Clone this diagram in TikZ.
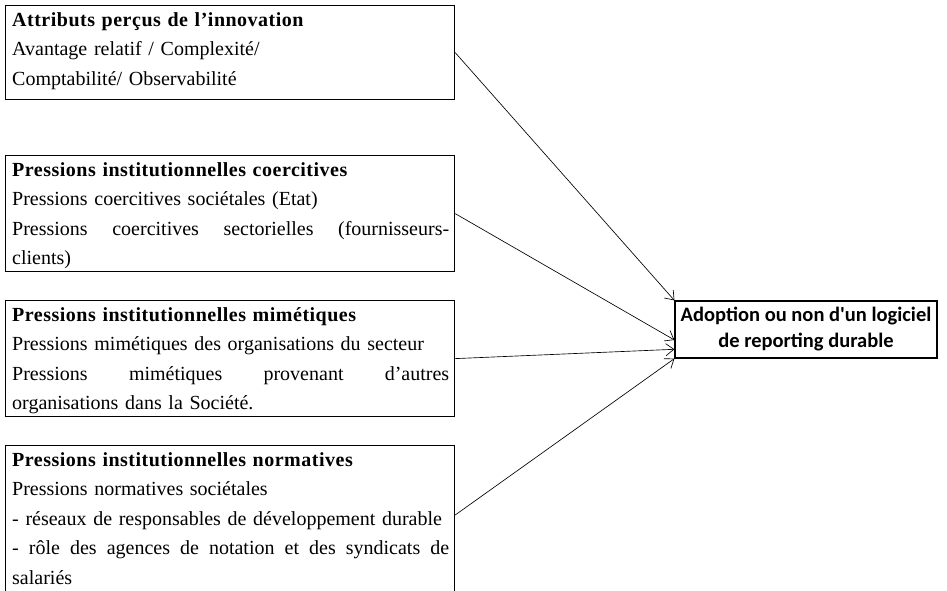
\documentclass[tikz,border=0pt]{standalone}
\usepackage{fontspec}
\setmainfont{Liberation Serif}
\newfontfamily\calib{Carlito}
\newfontfamily\titlefont[LetterSpace=2.5]{Liberation Serif Bold}
\usetikzlibrary{arrows.meta,calc}
\tikzset{
  boxframe/.style={draw, line width=1.2pt, inner sep=0pt, anchor=north west},
  boxtext/.style={anchor=base west, inner sep=0pt, text width=437pt, align=left,
    font=\fontsize{20}{29.5}\selectfont},
  target/.style={draw, line width=1.2pt, minimum width=262pt, minimum height=57pt,
    align=center, inner sep=0pt, font=\calib\bfseries\fontsize{20.5}{26}\selectfont},
  conn/.style={line width=0.65pt, -{Straight Barb[length=8pt,width=12pt]}},
}
\newcommand{\jline}[1]{\leavevmode\hbox to 437pt{#1}}
\newcommand{\ttl}[1]{{\titlefont #1}}
\begin{document}
\begin{tikzpicture}[x=1pt,y=-1pt]
\useasboundingbox (0,0) rectangle (947,590);
% frames
\node[boxframe, minimum width=449pt, minimum height=94pt] (b1) at (5,5) {};
\node[boxframe, minimum width=449pt, minimum height=116pt] (b2) at (5,155) {};
\node[boxframe, minimum width=449pt, minimum height=116pt] (b3) at (5,300) {};
\node[boxframe, minimum width=449pt, minimum height=180pt] (b4) at (5,445) {};
% texts
\node[boxtext] (t1) at (12,26) {\ttl{Attributs perçus de l’innovation}\\
Avantage relatif / Complexité/\\
Comptabilité/ Observabilité};
\node[boxtext] (t2) at (12,176) {\ttl{Pressions institutionnelles coercitives}\\
Pressions coercitives sociétales (Etat)\\
\jline{Pressions\hfill coercitives\hfill sectorielles\hfill (fournisseurs-}\\
clients)};
\node[boxtext] (t3) at (12,321) {\ttl{Pressions institutionnelles mimétiques}\\
Pressions mimétiques des organisations du secteur\\
\jline{Pressions\hfill mimétiques\hfill provenant\hfill d’autres}\\
organisations dans la Société.};
\node[boxtext] (t4) at (12,466) {\ttl{Pressions institutionnelles normatives}\\
Pressions normatives sociétales\\
- réseaux de responsables de développement durable\\
\jline{-\hfill rôle\hfill des\hfill agences\hfill de\hfill notation\hfill et\hfill des\hfill syndicats\hfill de}\\
salariés};
% target
\node[target] (t) at (806,329.5) {Adoption ou non d'un logiciel\\de reporting durable};
% connectors
\coordinate (b4out) at ($(b4.north east)+(0,70)$);
\draw[conn] (b1.east) -- (t.north west);
\draw[conn] (b2.east) -- ($(t.north west)!0.68!(t.south west)$);
\draw[conn] (b3.east) -- ($(t.north west)!0.84!(t.south west)$);
\draw[conn] (b4out) -- (t.south west);
\end{tikzpicture}
\end{document}
